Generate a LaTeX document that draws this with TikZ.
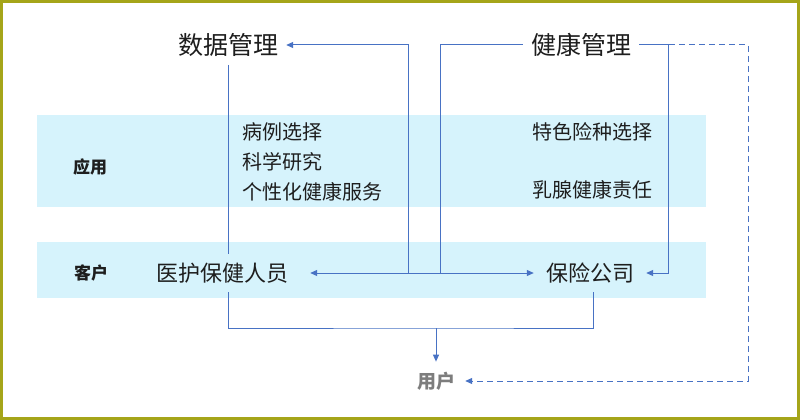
\documentclass[tikz,border=0pt]{standalone}
\usepackage{fontspec}
\newfontfamily\cjk{Noto Sans CJK SC}
\usetikzlibrary{arrows.meta}
\definecolor{band}{RGB}{214,243,252}
\definecolor{lnc}{RGB}{72,114,196}
\definecolor{frame}{RGB}{165,165,25}
\definecolor{txt}{RGB}{30,30,30}
\definecolor{gtxt}{RGB}{125,125,125}
\tikzset{
  ln/.style={draw=lnc, line width=1pt},
  arr/.style={ln, -{Triangle[length=7pt,width=6pt]}},
  darr/.style={ln, dash pattern=on 6pt off 4pt, -{Triangle[length=7pt,width=6pt]}},
  dbl/.style={ln, {Triangle[length=7pt,width=6pt]}-{Triangle[length=7pt,width=6pt]}},
  bandbox/.style={fill=band, draw=none},
  bigt/.style={font=\cjk\fontsize{25pt}{30pt}\selectfont, text=txt, inner sep=8pt},
  midt/.style={font=\cjk\fontsize{20pt}{24pt}\selectfont, text=txt, inner sep=0pt},
  cust/.style={font=\cjk\fontsize{22pt}{26pt}\selectfont, text=txt, fill=band, inner ysep=9pt},
  lab/.style={font=\cjk\bfseries\fontsize{17pt}{20pt}\selectfont, text=txt, inner sep=0pt},
  usr/.style={font=\cjk\bfseries\fontsize{19pt}{22pt}\selectfont, text=gtxt, inner sep=10pt}
}
\begin{document}
\begin{tikzpicture}[x=1pt,y=-1pt]
\useasboundingbox (0,0) rectangle (800,420);
\fill[white] (0,0) rectangle (800,420);
% bands
\path[bandbox] (37,115) rectangle (706,207);
\path[bandbox] (37,242) rectangle (706,298);
% coordinates
\coordinate (c1) at (408,273);
\coordinate (c2) at (440,273);
\coordinate (r1) at (668,45);
\coordinate (d1) at (748,45);
\coordinate (m) at (436,328);
% text nodes
\node[bigt] (dm) at (228,45) {数据管理};
\node[bigt] (jk) at (581,45) {健康管理};
\node[lab] (yy) at (90,167) {应用};
\node[lab] (kh) at (91,273) {客户};
\node[midt, anchor=west] (t1) at (242,132) {病例选择};
\node[midt, anchor=west] (t2) at (242,162) {科学研究};
\node[midt, anchor=west] (t3) at (242,192) {个性化健康服务};
\node[midt, anchor=east] (t4) at (653,132) {特色险种选择};
\node[midt, anchor=east] (t5) at (653,190) {乳腺健康责任};
\node[usr] (yh) at (436,381) {用户};
% connectors (behind customer nodes)
\draw[ln] (dm.south) |- (m) -| (593,292);
\draw[arr] (m) -- (yh.north);
\draw[arr] (c1) |- (dm.east);
\draw[ln] (c2) |- (jk.west);
\draw[darr] (jk.east) -- (d1) |- (yh.east);
\node[cust, inner xsep=22pt] (yl) at (222,273) {医护保健人员};
\node[cust, inner xsep=12pt] (bx) at (590,273) {保险公司};
\draw[ln] (593,292) -- (bx.south -| 593,0);
\draw[arr] (jk.east) -- (r1) |- (bx.east);
\draw[dbl] (yl.east) -- (bx.west);
% frame
\draw[frame, line width=3pt] (1.5,1.5) rectangle (798.5,418.5);
\end{tikzpicture}
\end{document}
